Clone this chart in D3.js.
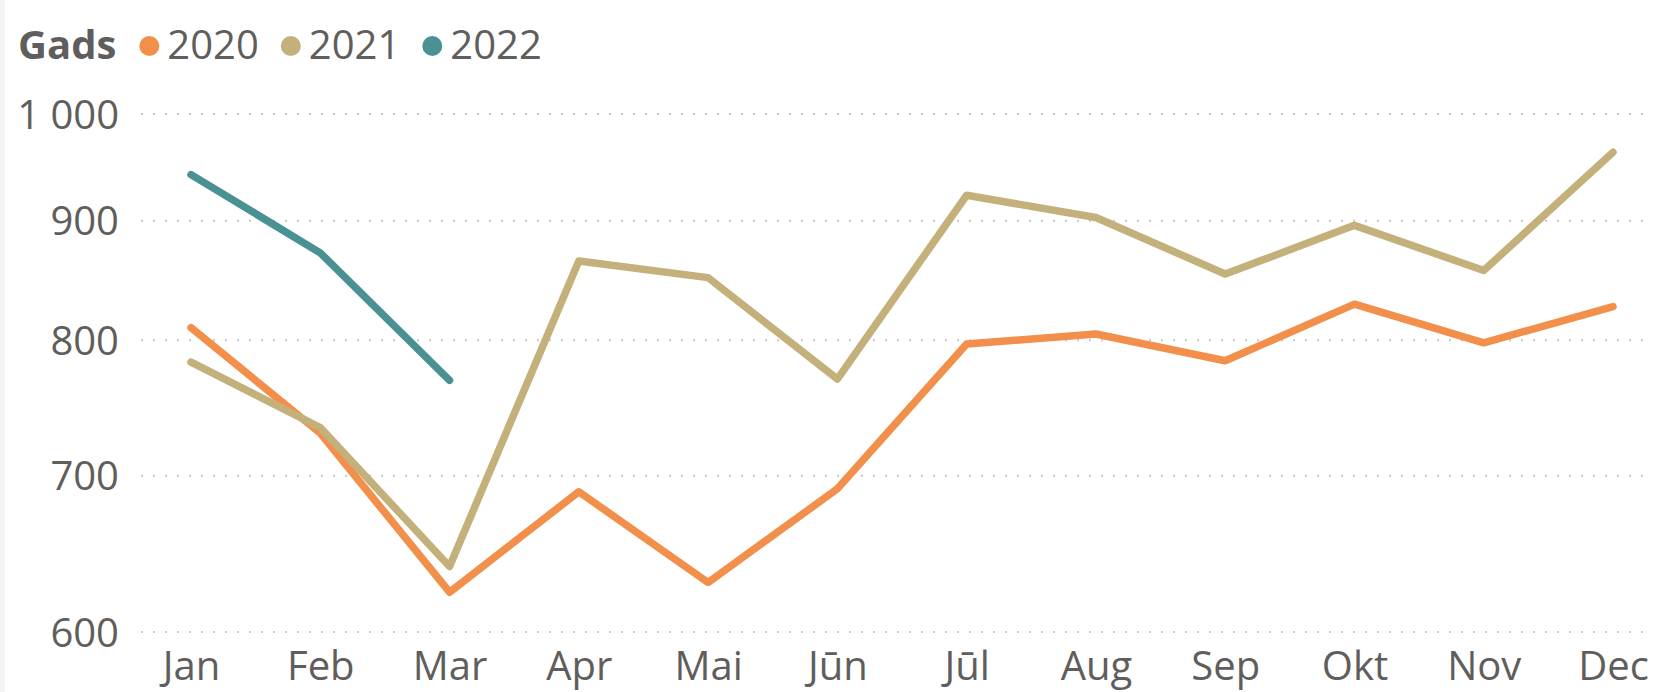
<html>
<head>
<meta charset="utf-8">
<script src="https://d3js.org/d3.v7.min.js"></script>
<style>
    body { margin: 0; background: #fff; }
    text { font-family: "Open Sans", "Noto Sans", sans-serif; fill: #605e5c; }
</style>
</head>
<body>
<svg id="chart" width="1659" height="692"></svg>
<script>
// data
var months = ["Jan", "Feb", "Mar", "Apr", "Mai", "Jūn", "Jūl", "Aug", "Sep", "Okt", "Nov", "Dec"];
var years = ["2020", "2021", "2022"];
var values2020 = [810, 730, 624, 689, 630, 691, 797, 805, 784, 829, 798, 827];
var values2021 = [783, 734, 640, 865, 851, 770, 923, 903, 854, 896, 857, 963];
var values2022 = [942, 872, 769];
var yTicks = [600, 700, 800, 900, 1000];
var yTickLabels = ["600", "700", "800", "900", "1 000"];
var colors = ["#f28f4a", "#c4b07b", "#4a9194"];

var series = [values2020, values2021, values2022].map(function(vals, i) {
    return { year: years[i], color: colors[i], points: vals.map(function(v, j) { return { m: months[j], v: v }; }) };
});

var svg = d3.select("#chart");

// faint frame edge on the left
svg.append("rect").attr("x", 0).attr("y", 0).attr("width", 5).attr("height", 692).attr("fill", "#f4f4f4");

var x = d3.scalePoint()
    .domain(months)
    .range([191, 1613]);

var y = d3.scaleLog()
    .domain([600, 1000])
    .range([632, 114]);

// gridlines
svg.append("g")
    .selectAll("line")
    .data(yTicks)
    .enter()
    .append("line")
    .attr("x1", 141)
    .attr("x2", 1652)
    .attr("y1", function(d) { return y(d); })
    .attr("y2", function(d) { return y(d); })
    .attr("stroke", "#c6c6c6")
    .attr("stroke-width", 2)
    .attr("stroke-dasharray", "2 10");

// y axis labels
var yAxis = svg.append("g")
    .attr("transform", "translate(119,0)")
    .call(d3.axisLeft(y)
        .tickValues(yTicks)
        .tickSize(0)
        .tickPadding(0)
        .tickFormat(function(d, i) { return yTickLabels[i]; }));
yAxis.select(".domain").remove();
yAxis.selectAll("text")
    .attr("font-size", 40)
    .attr("font-family", null)
    .attr("dy", "0.35em");

// x axis labels
var xAxis = svg.append("g")
    .attr("transform", "translate(0,642)")
    .call(d3.axisBottom(x).tickSize(0).tickPadding(0));
xAxis.select(".domain").remove();
xAxis.selectAll("text")
    .attr("font-size", 40)
    .attr("font-family", null)
    .attr("dy", "0.95em");

// lines
var line = d3.line()
    .x(function(d) { return x(d.m); })
    .y(function(d) { return y(d.v); });

svg.append("g")
    .selectAll("path")
    .data(series)
    .enter()
    .append("path")
    .attr("d", function(d) { return line(d.points); })
    .attr("fill", "none")
    .attr("stroke", function(d) { return d.color; })
    .attr("stroke-width", 7.5)
    .attr("stroke-linecap", "round")
    .attr("stroke-linejoin", "round");

// legend
var legend = svg.append("g");
var title = legend.append("text")
    .attr("x", 18)
    .attr("y", 59)
    .attr("font-size", 40)
    .attr("font-weight", "bold")
    .style("fill", "#5e5e5e")
    .text("Gads");

var cx = title.node().getComputedTextLength() + 18 + 33;
years.forEach(function(yr, i) {
    legend.append("circle")
        .attr("cx", cx)
        .attr("cy", 46)
        .attr("r", 10)
        .attr("fill", colors[i]);
    var t = legend.append("text")
        .attr("x", cx + 18)
        .attr("y", 59)
        .attr("font-size", 40)
        .text(yr);
    cx += 18 + t.node().getComputedTextLength() + 32;
});
</script>
</body>
</html>
